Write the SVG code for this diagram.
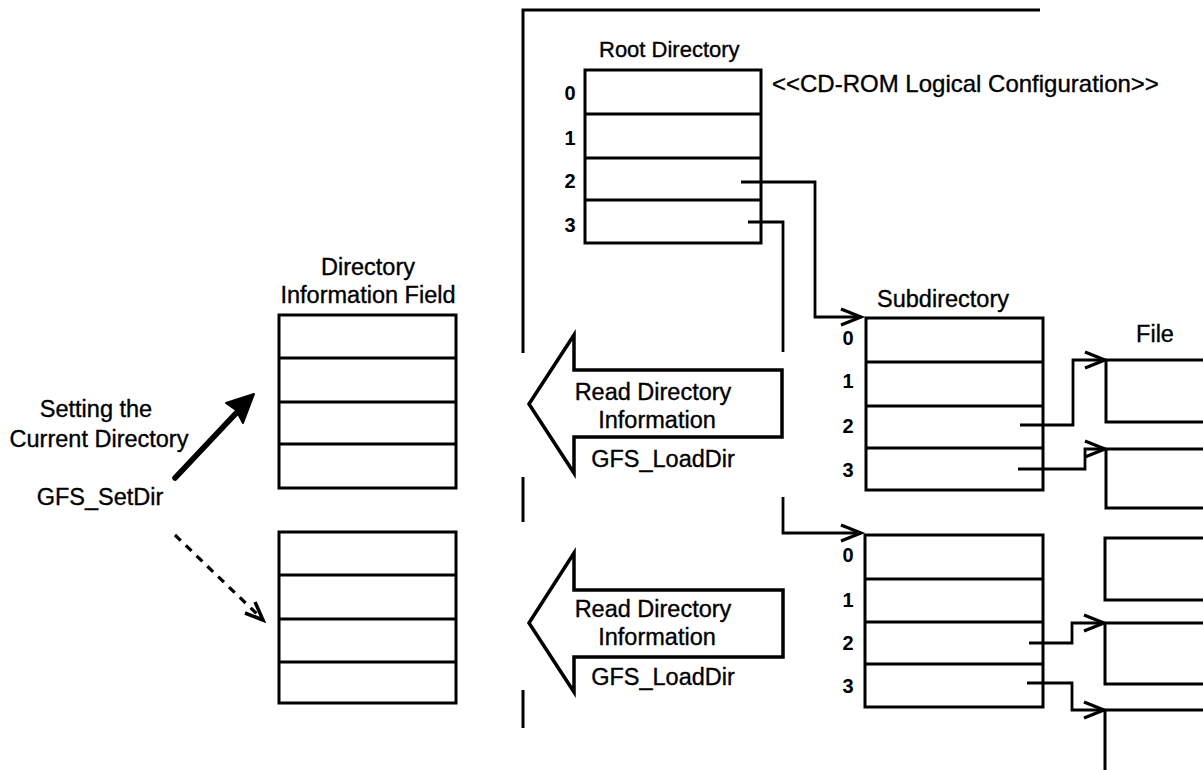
<svg xmlns="http://www.w3.org/2000/svg" width="1203" height="770" viewBox="0 0 1203 770">
  <style>
    .box { fill: #fff; stroke: #000; stroke-width: 3; }
    .row { fill: none; stroke: #000; stroke-width: 3; }
    .wire { fill: none; stroke: #000; stroke-width: 2.8; }
    .lbl { font-family: "Liberation Sans", Arial, sans-serif; font-size: 23.5px; fill: #000; stroke: #000; stroke-width: 0.35; }
    .idx { font-family: "Liberation Sans", Arial, sans-serif; font-size: 20px; font-weight: bold; fill: #000; text-anchor: middle; }
    .mid { text-anchor: middle; }
    .bigarrow { fill: #fff; stroke: #000; stroke-width: 3.5; stroke-linejoin: miter; }
  </style>
  <defs>
    <marker id="chev" markerUnits="userSpaceOnUse" markerWidth="30" markerHeight="24" viewBox="-24 -12 28 24" refX="0" refY="0" orient="auto">
      <path d="M-20,-8 L0,0 L-20,8" fill="none" stroke="#000" stroke-width="3.2"/>
    </marker>
  </defs>

  <rect width="1203" height="770" fill="#fff"/>

  <!-- outer frame of the CD-ROM side -->
  <g id="frame" fill="none" stroke="#000" stroke-width="3">
    <path d="M523,353 V10 H1040"/>
    <path d="M523,477 V522"/>
    <path d="M523,690 V728"/>
  </g>

  <!-- root directory -->
  <g id="root-directory">
    <text class="lbl" x="599" y="57" style="font-size:22px">Root Directory</text>
    <rect class="box" x="585" y="70" width="176" height="173"/>
    <path class="row" d="M585,114 H761 M585,158 H761 M585,200 H761"/>
    <text class="idx" x="570" y="100">0</text>
    <text class="idx" x="570" y="145">1</text>
    <text class="idx" x="570" y="188">2</text>
    <text class="idx" x="570" y="232">3</text>
  </g>

  <text id="config-label" class="lbl" x="772" y="92" style="font-size:24px">&lt;&lt;CD-ROM Logical Configuration&gt;&gt;</text>

  <!-- directory information field buffers -->
  <g id="dir-info-1">
    <text class="lbl mid" x="368" y="275">Directory</text>
    <text class="lbl mid" x="368" y="303">Information Field</text>
    <rect class="box" x="279" y="315" width="177" height="173"/>
    <path class="row" d="M279,358 H456 M279,402 H456 M279,444 H456"/>
  </g>
  <g id="dir-info-2">
    <rect class="box" x="279" y="532" width="177" height="171"/>
    <path class="row" d="M279,575 H456 M279,619 H456 M279,662 H456"/>
  </g>

  <!-- current directory selection -->
  <g id="set-dir">
    <text class="lbl mid" x="96" y="417">Setting the</text>
    <text class="lbl mid" x="99" y="447">Current Directory</text>
    <text class="lbl mid" x="100" y="505">GFS_SetDir</text>
    <line x1="175" y1="478" x2="240" y2="409" stroke="#000" stroke-width="5.5" stroke-linecap="round"/>
    <polygon points="254,394 226,403 236,410 243,423" fill="#000" stroke="#000" stroke-width="2" stroke-linejoin="round"/>
    <line x1="175" y1="535" x2="258" y2="615" stroke="#000" stroke-width="3.2" stroke-dasharray="8 7"/>
    <path d="M245,613 L263,620 L255,602" fill="none" stroke="#000" stroke-width="3.5"/>
  </g>

  <!-- read directory information arrows -->
  <g id="load-dir-1">
    <polygon class="bigarrow" points="529,404 574,335 574,370 782,370 782,437 574,437 574,473"/>
    <text class="lbl mid" x="653" y="400">Read Directory</text>
    <text class="lbl mid" x="657" y="428">Information</text>
    <text class="lbl mid" x="663" y="467">GFS_LoadDir</text>
  </g>
  <g id="load-dir-2">
    <polygon class="bigarrow" points="529,623 574,553 574,590 783,590 783,657 574,657 574,692"/>
    <text class="lbl mid" x="653" y="617">Read Directory</text>
    <text class="lbl mid" x="657" y="645">Information</text>
    <text class="lbl mid" x="663" y="685">GFS_LoadDir</text>
  </g>

  <!-- subdirectories -->
  <g id="subdirectory-1">
    <text class="lbl mid" x="943" y="307">Subdirectory</text>
    <rect class="box" x="866" y="318" width="177" height="172"/>
    <path class="row" d="M866,362 H1043 M866,406 H1043 M866,448 H1043"/>
    <text class="idx" x="848" y="345">0</text>
    <text class="idx" x="848" y="388">1</text>
    <text class="idx" x="848" y="433">2</text>
    <text class="idx" x="848" y="477">3</text>
  </g>
  <g id="subdirectory-2">
    <rect class="box" x="865" y="535" width="178" height="172"/>
    <path class="row" d="M865,579 H1043 M865,622 H1043 M865,664 H1043"/>
    <text class="idx" x="848" y="562">0</text>
    <text class="idx" x="848" y="607">1</text>
    <text class="idx" x="848" y="650">2</text>
    <text class="idx" x="848" y="693">3</text>
  </g>

  <!-- files -->
  <g id="files" fill="#fff" stroke="#000" stroke-width="3">
    <text class="lbl mid" x="1155" y="342">File</text>
    <path d="M1215,360 H1106 V422 H1215"/>
    <path d="M1215,449 H1106 V508 H1215"/>
    <path d="M1215,538 H1105 V600 H1215"/>
    <path d="M1215,623 H1105 V684 H1215"/>
    <path d="M1215,710 H1105 V772"/>
  </g>

  <!-- connectors -->
  <g id="connectors">
    <path class="wire" d="M741,182 H815 V317 H861" marker-end="url(#chev)"/>
    <path class="wire" d="M748,222 H783 V352"/>
    <path class="wire" d="M783,497 V533 H861" marker-end="url(#chev)"/>
    <path class="wire" d="M1020,425 H1073 V360 H1105" marker-end="url(#chev)"/>
    <path class="wire" d="M1018,469 H1085 V449 H1105" marker-end="url(#chev)"/>
    <path class="wire" d="M1029,643 H1072 V623 H1104" marker-end="url(#chev)"/>
    <path class="wire" d="M1027,683 H1072 V710 H1104" marker-end="url(#chev)"/>
  </g>
</svg>
